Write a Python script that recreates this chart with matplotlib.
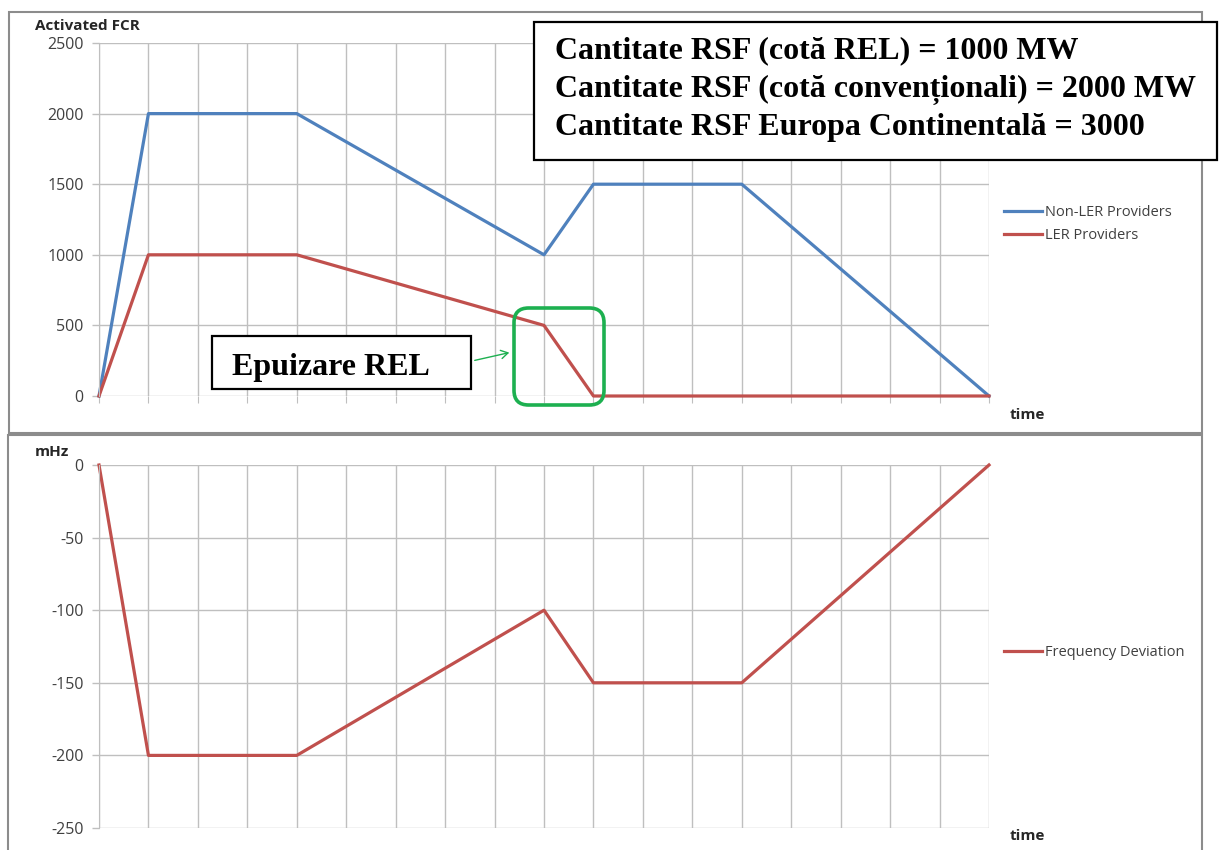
import matplotlib
matplotlib.use("Agg")
import matplotlib.pyplot as plt
from matplotlib.patches import Rectangle, FancyBboxPatch, FancyArrowPatch

plt.rcParams["axes.unicode_minus"] = False

# ---- data ----
time_pts = [0, 1, 4, 9, 10, 13, 18]
non_ler = [0, 2000, 2000, 1000, 1500, 1500, 0]
ler_time = [0, 1, 4, 9, 10, 18]
ler = [0, 1000, 1000, 500, 0, 0]
freq_dev = [0, -200, -200, -100, -150, -150, 0]
top_yticks = [0, 500, 1000, 1500, 2000, 2500]
bot_yticks = [0, -50, -100, -150, -200, -250]
info_lines = ["Cantitate RSF (cotă REL) = 1000 MW",
              "Cantitate RSF (cotă convenționali) = 2000 MW",
              "Cantitate RSF Europa Continentală = 3000"]
BLUE = "#4F81BD"
RED = "#C0504D"
GRID = "#BFBFBF"
W, H = 1219, 850
LBL_FONT = ["Open Sans", "DejaVu Sans"]
SERIF = ["Liberation Serif", "DejaVu Serif"]

fig = plt.figure(figsize=(W / 100, H / 100), dpi=100)

def fx(px):
    return px / W

def fy(py):
    return 1 - py / H

# panel frames
for (x0, y0, x1, y1) in [(9, 12, 1202, 433), (8, 435, 1202, 860)]:
    fig.patches.append(Rectangle((fx(x0), fy(y1)), fx(x1 - x0), (y1 - y0) / H,
                                 transform=fig.transFigure, fill=True, facecolor="white",
                                 edgecolor="#8C8C8C", lw=1.5, zorder=-5))

def style_axes(ax, yticks, ymin, ymax):
    ax.set_zorder(2)
    ax.set_xlim(0, 18)
    ax.set_ylim(ymin, ymax)
    ax.set_xticks(range(0, 19))
    ax.set_yticks(yticks)
    ax.set_xticklabels([])
    ax.grid(True, color=GRID, lw=1.0)
    ax.set_axisbelow(True)
    for s in ["top", "right", "bottom"]:
        ax.spines[s].set_visible(False)
    ax.spines["left"].set_color(GRID)
    ax.tick_params(axis="y", labelcolor="#404040", color=GRID, length=5, width=1,
                   labelsize=11.5, pad=6)
    ax.tick_params(axis="x", length=0)
    for t in ax.get_yticklabels():
        t.set_family(LBL_FONT)
    ax.patch.set_alpha(0)

# top axes
ax1 = fig.add_axes([fx(99), fy(396), fx(989 - 99), (396 - 43) / H])
style_axes(ax1, top_yticks, 0, 2500)
ax1.plot(time_pts, non_ler, color=BLUE, lw=2.3, label="Non-LER Providers", clip_on=False)
ax1.plot(ler_time, ler, color=RED, lw=2.3, label="LER Providers", clip_on=False)
ax1.tick_params(axis="x", length=5, color=GRID, direction="out")
ax1.legend(loc="upper left", bbox_to_anchor=(fx(994), fy(195)), bbox_transform=fig.transFigure,
           frameon=False, prop={"family": LBL_FONT, "size": 10.5}, handlelength=2.6,
           handletextpad=0.2, labelspacing=0.55, labelcolor="#404040", borderpad=0.2)

# bottom axes
ax2 = fig.add_axes([fx(99), fy(828), fx(989 - 99), (828 - 465) / H])
style_axes(ax2, bot_yticks, -250, 0)
ax2.plot(time_pts, freq_dev, color=RED, lw=2.3, label="Frequency Deviation", clip_on=False)
ax2.legend(loc="upper left", bbox_to_anchor=(fx(994), fy(635)), bbox_transform=fig.transFigure,
           frameon=False, prop={"family": LBL_FONT, "size": 10.5}, handlelength=2.6,
           handletextpad=0.2, labelcolor="#404040", borderpad=0.2)

# axis titles
fig.text(fx(35), fy(26), "Activated FCR", family=LBL_FONT, weight="bold", size=11,
         va="center", ha="left", color="#262626")
fig.text(fx(35), fy(452), "mHz", family=LBL_FONT, weight="bold", size=11,
         va="center", ha="left", color="#262626")
fig.text(fx(1010), fy(415), "time", family=LBL_FONT, weight="bold", size=11,
         va="center", ha="left", color="#262626")
fig.text(fx(1010), fy(836), "time", family=LBL_FONT, weight="bold", size=11,
         va="center", ha="left", color="#262626")

# info box
fig.patches.append(Rectangle((fx(534), fy(160)), fx(1217 - 534), (160 - 22) / H,
                             transform=fig.transFigure, facecolor="white",
                             edgecolor="black", lw=1.6, zorder=5))
for i, line in enumerate(info_lines):
    fig.text(fx(555), fy(51 + i * 38.5), line, family=SERIF, weight="bold", size=23,
             va="center", ha="left", color="black", zorder=6)

# Epuizare REL box
fig.patches.append(Rectangle((fx(212), fy(389)), fx(471 - 212), (389 - 336) / H,
                             transform=fig.transFigure, facecolor="white",
                             edgecolor="black", lw=1.6, zorder=5))
fig.text(fx(232), fy(367), "Epuizare REL", family=SERIF, weight="bold", size=23,
         va="center", ha="left", color="black", zorder=6)

# green rounded rect
fig.patches.append(FancyBboxPatch((fx(514), fy(405)), fx(604 - 514), (405 - 308) / H,
                                  boxstyle="round,pad=0,rounding_size=0.012",
                                  transform=fig.transFigure, facecolor="none",
                                  edgecolor="#1DB050", lw=2.6, zorder=6,
                                  mutation_aspect=W / H))
fig.patches.append(FancyArrowPatch((fx(472), fy(361)), (fx(512), fy(352)),
                                   transform=fig.transFigure, arrowstyle="->,head_length=5,head_width=3",
                                   color="#1DB050", lw=1.0, zorder=6))

fig.savefig("out.png", dpi=100)
